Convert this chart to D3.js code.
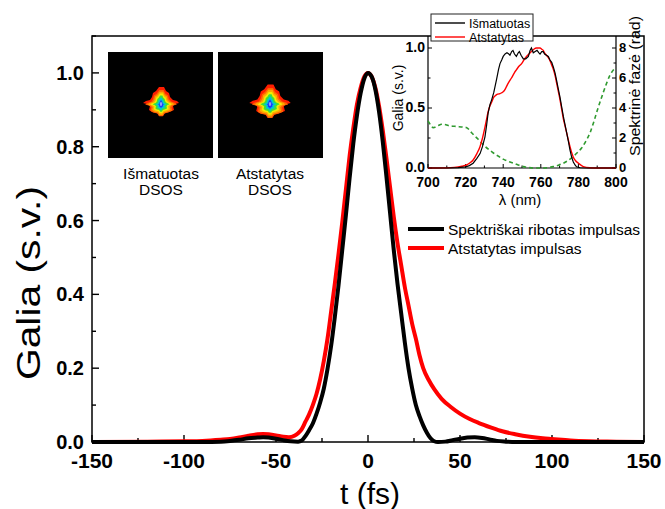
<!DOCTYPE html>
<html>
<head>
<meta charset="utf-8">
<script src="https://cdn.jsdelivr.net/npm/d3@7/dist/d3.min.js"></script>
<style>
  html, body { margin: 0; padding: 0; background: #fff; }
  svg { display: block; font-family: "Liberation Sans", Arial, sans-serif; }
</style>
</head>
<body>
<svg id="chart" width="665" height="509"></svg>
<script>
// ---------- Main chart data ----------
const mainXTicks = [-150, -100, -50, 0, 50, 100, 150];
const mainYTicks = [0.0, 0.2, 0.4, 0.6, 0.8, 1.0];

const limitedT = [-150, -120, -90, -80, -75, -70, -65, -60, -57, -54, -50, -46, -42, -38, -36, -34, -32, -30, -28, -26, -24, -22, -20, -18, -16, -14, -12, -10, -8, -6, -4, -2, 0, 2, 4, 6, 8, 10, 12, 14, 16, 18, 20, 22, 24, 26, 28, 30, 32, 34, 36, 38, 42, 46, 50, 54, 58, 62, 66, 70, 75, 80, 150];
const limitedP = [0, 0, 0, 0.001, 0.003, 0.006, 0.010, 0.012, 0.013, 0.012, 0.009, 0.005, 0.002, 0.001, 0.004, 0.016, 0.032, 0.050, 0.076, 0.107, 0.145, 0.198, 0.262, 0.340, 0.425, 0.520, 0.615, 0.715, 0.808, 0.885, 0.945, 0.985, 1.0, 0.99, 0.955, 0.895, 0.815, 0.72, 0.62, 0.52, 0.43, 0.35, 0.27, 0.20, 0.145, 0.10, 0.07, 0.045, 0.025, 0.010, 0.002, 0.0, 0.001, 0.005, 0.009, 0.012, 0.013, 0.011, 0.007, 0.003, 0.001, 0, 0];

const retrievedT = [-150, -120, -100, -90, -80, -75, -70, -65, -60, -57, -54, -50, -46, -43, -40, -38, -36, -34, -32, -30, -28, -26, -24, -22, -20, -18, -16, -14, -12, -10, -8, -6, -4, -2, 0, 2, 4, 6, 8, 10, 12, 14, 16, 18, 20, 22, 24, 26, 28, 30, 33, 36, 40, 45, 50, 55, 60, 67, 73, 80, 88, 95, 100, 110, 120, 135, 150];
const retrievedP = [0, 0.001, 0.002, 0.003, 0.006, 0.008, 0.012, 0.017, 0.021, 0.022, 0.021, 0.018, 0.014, 0.013, 0.017, 0.024, 0.035, 0.055, 0.075, 0.10, 0.13, 0.17, 0.22, 0.28, 0.355, 0.43, 0.51, 0.595, 0.685, 0.775, 0.85, 0.915, 0.96, 0.99, 1.0, 0.99, 0.96, 0.91, 0.845, 0.77, 0.69, 0.61, 0.54, 0.48, 0.42, 0.37, 0.32, 0.28, 0.235, 0.20, 0.168, 0.143, 0.117, 0.095, 0.077, 0.063, 0.052, 0.039, 0.029, 0.021, 0.014, 0.010, 0.008, 0.004, 0.002, 0.001, 0];

const mainLegend = ["Spektriškai ribotas impulsas", "Atstatytas impulsas"];
const mainColors = ["#000000", "#ff0000"];

// ---------- Inset data ----------
const insetXTicks = [700, 720, 740, 760, 780, 800];
const insetYTicks = [0.0, 0.5, 1.0];
const insetPhaseTicks = [0, 2, 4, 6, 8];

const measuredWl = [700, 710, 716, 720, 722, 724, 726, 727.7, 729, 730.3, 731.2, 732, 733, 733.9, 735, 736.5, 737.5, 738.3, 739.2, 740, 741, 742, 743, 743.6, 744.5, 745.2, 746, 747, 748, 748.6, 749.5, 750.7, 752, 753.4, 754.3, 755, 756, 757, 758, 759, 759.6, 760.5, 761.3, 762, 763, 764, 764.9, 765.8, 766.7, 767.6, 768.4, 769.3, 770.2, 771.1, 772, 772.9, 773.8, 774.7, 775.5, 776.4, 777.3, 778.2, 779, 781, 785, 800];
const measuredI = [0, 0, 0.003, 0.01, 0.02, 0.04, 0.08, 0.12, 0.18, 0.26, 0.36, 0.46, 0.53, 0.57, 0.63, 0.74, 0.82, 0.87, 0.90, 0.93, 0.95, 0.96, 0.95, 0.94, 0.97, 0.98, 0.95, 0.93, 0.96, 0.97, 0.94, 0.91, 0.91, 0.93, 0.98, 1.0, 0.96, 0.97, 0.98, 0.96, 0.95, 0.97, 0.97, 0.95, 0.94, 0.93, 0.90, 0.88, 0.84, 0.79, 0.73, 0.66, 0.59, 0.51, 0.43, 0.36, 0.29, 0.22, 0.15, 0.09, 0.05, 0.025, 0.01, 0.002, 0, 0];

const retrievedWl = [700, 710, 714, 718, 720.5, 722, 724, 726, 727.7, 729, 730.3, 731.2, 732, 733, 733.9, 735, 736, 737, 738.3, 739, 740, 741, 741.8, 743, 744.4, 746, 747.1, 748.5, 749.8, 751, 752.4, 753.7, 755, 756.3, 757.7, 759.6, 760.5, 761.3, 762, 763, 764, 765, 766, 766.7, 767.6, 768.4, 769.3, 770.2, 771.1, 772, 772.9, 773.8, 774.7, 775.5, 776.4, 777.3, 778.5, 780, 782.6, 786, 790, 800];
const retrievedI = [0, 0.001, 0.005, 0.015, 0.025, 0.04, 0.067, 0.12, 0.18, 0.25, 0.34, 0.41, 0.47, 0.52, 0.55, 0.59, 0.605, 0.615, 0.62, 0.625, 0.635, 0.655, 0.68, 0.715, 0.75, 0.795, 0.82, 0.85, 0.87, 0.90, 0.93, 0.95, 0.97, 0.99, 1.0, 1.0, 0.99, 0.98, 0.96, 0.94, 0.92, 0.89, 0.85, 0.82, 0.77, 0.71, 0.64, 0.57, 0.49, 0.41, 0.35, 0.29, 0.23, 0.18, 0.13, 0.09, 0.06, 0.04, 0.012, 0.002, 0, 0];

const phaseWl = [700, 701.5, 702.8, 705, 707.3, 709.5, 711.7, 714, 716, 718.5, 720.6, 723.2, 725, 726.8, 728.5, 730.3, 732.5, 734.8, 737.5, 740, 742.7, 745.4, 748, 750.7, 753.4, 756, 758.6, 761.3, 764, 766.7, 769.4, 772, 774.7, 777.3, 779.5, 781.7, 784, 786.2, 788, 789.7, 791.5, 793.3, 795, 796.8, 798.6, 800];
const phaseRad = [3.14, 2.85, 2.69, 2.8, 2.92, 2.88, 2.8, 2.78, 2.76, 2.73, 2.69, 2.35, 2.12, 1.9, 1.67, 1.45, 1.22, 1.0, 0.78, 0.59, 0.44, 0.32, 0.2, 0.09, 0.03, 0.0, 0.0, 0.0, 0.03, 0.09, 0.19, 0.32, 0.52, 0.77, 1.03, 1.33, 1.8, 2.35, 3.0, 3.7, 4.4, 5.06, 5.65, 6.19, 6.53, 6.7];

const insetLegend = ["Išmatuotas", "Atstatytas"];

// ---------- DSOS thumbnails ----------
const thumbLabels = [["Išmatuotas", "DSOS"], ["Atstatytas", "DSOS"]];
const thumbScale = [1.0, 1.15];
// outer contour of the trace (pixels relative to the spot centre)
const blobDx = [-2, 3, 5, 8, 9, 12, 16, 18, 14, 12, 13, 8, 4, 2, -2, -4, -9, -12, -11, -14, -18, -15, -11, -9, -8, -5];
const blobDy = [-16, -16, -12, -10, -6, -3, -2, 0, 1, 3, 7, 9, 10, 13, 13, 10, 9, 7, 3, 1, 0, -2, -3, -6, -10, -12];
const levelSx = [1.0, 0.88, 0.74, 0.6, 0.46, 0.3, 0.16];
const levelSy = [1.0, 0.9, 0.8, 0.68, 0.56, 0.42, 0.26];
const levelColors = ["#ff1e00", "#ff6400", "#ffa800", "#f2ee00", "#3ede3a", "#00c4d6", "#1638ff"];

// ---------- Drawing ----------
const svg = d3.select("#chart");

const M = { left: 92, right: 644, top: 36, bottom: 442 };
const x = d3.scaleLinear().domain([-150, 150]).range([M.left, M.right]);
const y = d3.scaleLinear().domain([0, 1.1]).range([M.bottom, M.top]);

// frame
svg.append("rect").attr("x", M.left).attr("y", M.top)
  .attr("width", M.right - M.left).attr("height", M.bottom - M.top)
  .attr("fill", "none").attr("stroke", "#000").attr("stroke-width", 1.5);

// ticks (inward)
const xMinor = d3.range(-150, 151, 25);
const yMinor = d3.range(0, 1.101, 0.1);
svg.append("g").selectAll("line").data(xMinor).join("line")
  .attr("x1", d => x(d)).attr("x2", d => x(d))
  .attr("y1", M.bottom).attr("y2", d => M.bottom - (d % 50 === 0 ? 7 : 4))
  .attr("stroke", "#000").attr("stroke-width", 1.4);
svg.append("g").selectAll("line").data(yMinor).join("line")
  .attr("y1", d => y(d)).attr("y2", d => y(d))
  .attr("x1", M.left).attr("x2", (d, i) => M.left + (i % 2 === 0 ? 7 : 4))
  .attr("stroke", "#000").attr("stroke-width", 1.4);

svg.append("g").selectAll("text").data(mainXTicks).join("text")
  .attr("x", d => x(d)).attr("y", 468)
  .attr("text-anchor", "middle")
  .attr("font-size", 21).attr("font-weight", "bold")
  .text(d => d);
svg.append("g").selectAll("text").data(mainYTicks).join("text")
  .attr("x", 84).attr("y", d => y(d) + 7)
  .attr("text-anchor", "end")
  .attr("font-size", 20).attr("font-weight", "bold")
  .text(d => d.toFixed(1));

svg.append("text").attr("x", 370).attr("y", 504)
  .attr("text-anchor", "middle").attr("font-size", 30).text("t (fs)");
svg.append("text")
  .attr("transform", "translate(40,283) rotate(-90)")
  .attr("text-anchor", "middle").attr("font-size", 33)
  .attr("textLength", 194).attr("lengthAdjust", "spacingAndGlyphs")
  .text("Galia (s.v.)");

// curves
const line = d3.line().curve(d3.curveMonotoneX);
svg.append("path")
  .attr("d", line(retrievedT.map((t, i) => [x(t), y(retrievedP[i])])))
  .attr("fill", "none").attr("stroke", mainColors[1]).attr("stroke-width", 4);
svg.append("path")
  .attr("d", line(limitedT.map((t, i) => [x(t), y(limitedP[i])])))
  .attr("fill", "none").attr("stroke", mainColors[0]).attr("stroke-width", 4);

// main legend
mainLegend.forEach((lab, i) => {
  const ly = 229 + i * 19;
  svg.append("line").attr("x1", 408).attr("x2", 444).attr("y1", ly).attr("y2", ly)
    .attr("stroke", mainColors[i]).attr("stroke-width", 4);
  svg.append("text").attr("x", 448).attr("y", ly + 5.5)
    .attr("font-size", 15.5).text(lab);
});

// ---------- DSOS thumbnails ----------
const thumbs = [{ x0: 108, cx: 161 }, { x0: 218, cx: 270 }];
thumbs.forEach((tb, k) => {
  svg.append("rect").attr("x", tb.x0).attr("y", 52).attr("width", 105).attr("height", 106)
    .attr("fill", "#000");
  const s = thumbScale[k];
  levelColors.forEach((c, li) => {
    const pts = blobDx.map((dx, j) => [tb.cx + dx * s * levelSx[li], 103 + (li > 0 ? 1.5 : 0) + blobDy[j] * s * levelSy[li]]);
    svg.append("path").attr("d", d3.line().curve(d3.curveLinearClosed)(pts))
      .attr("fill", c).attr("stroke", "none");
  });
  svg.append("ellipse").attr("cx", tb.cx).attr("cy", 104).attr("rx", 1.2).attr("ry", 2)
    .attr("fill", "#8aa0ff");
  thumbLabels[k].forEach((t, j) => {
    svg.append("text").attr("x", tb.cx).attr("y", 179 + j * 16)
      .attr("text-anchor", "middle").attr("font-size", 15.5).text(t);
  });
});

// ---------- Inset ----------
const I = { left: 428, right: 616, top: 36, bottom: 168 };
const ix = d3.scaleLinear().domain([700, 800]).range([I.left, I.right]);
const iy = d3.scaleLinear().domain([0, 1.1]).range([I.bottom, I.top]);
const ip = d3.scaleLinear().domain([0, 8.8]).range([I.bottom, I.top]);

const ig = svg.append("g");
ig.append("path")
  .attr("d", `M${I.left},${I.top}V${I.bottom}H${I.right}V${I.top}`)
  .attr("fill", "none").attr("stroke", "#000").attr("stroke-width", 1.2);

// inset ticks
ig.selectAll("line.ixt").data(d3.range(700, 801, 10)).join("line")
  .attr("x1", d => ix(d)).attr("x2", d => ix(d))
  .attr("y1", I.bottom).attr("y2", d => I.bottom - (d % 20 === 0 ? 4 : 2.5))
  .attr("stroke", "#000").attr("stroke-width", 1);
ig.selectAll("line.iyt").data(d3.range(0, 1.01, 0.25)).join("line")
  .attr("y1", d => iy(d)).attr("y2", d => iy(d))
  .attr("x1", I.left).attr("x2", (d, i) => I.left + (i % 2 === 0 ? 4 : 2.5))
  .attr("stroke", "#000").attr("stroke-width", 1);
ig.selectAll("line.ipt").data(d3.range(0, 8.01, 1)).join("line")
  .attr("y1", d => ip(d)).attr("y2", d => ip(d))
  .attr("x1", I.right).attr("x2", (d, i) => I.right - (i % 2 === 0 ? 4 : 2.5))
  .attr("stroke", "#000").attr("stroke-width", 1);

ig.selectAll("text.ixl").data(insetXTicks).join("text")
  .attr("x", d => ix(d)).attr("y", 187)
  .attr("text-anchor", "middle").attr("font-size", 14).attr("font-weight", "bold")
  .text(d => d);
ig.selectAll("text.iyl").data(insetYTicks).join("text")
  .attr("x", 425).attr("y", d => iy(d) + 4)
  .attr("text-anchor", "end").attr("font-size", 14).attr("font-weight", "bold")
  .text(d => d.toFixed(1));
ig.selectAll("text.ipl").data(insetPhaseTicks).join("text")
  .attr("x", 619).attr("y", d => ip(d) + 3.5)
  .attr("text-anchor", "start").attr("font-size", 13).attr("font-weight", "bold")
  .text(d => d);

ig.append("text").attr("x", 520).attr("y", 205)
  .attr("text-anchor", "middle").attr("font-size", 15).text("λ (nm)");
ig.append("text").attr("transform", "translate(403,98) rotate(-90)")
  .attr("text-anchor", "middle").attr("font-size", 14).text("Galia (s.v.)");
ig.append("text").attr("transform", "translate(640,86) rotate(-90)")
  .attr("text-anchor", "middle").attr("font-size", 14.5)
  .attr("textLength", 140).attr("lengthAdjust", "spacingAndGlyphs")
  .text("Spektrinė fazė (rad)");

// inset curves
ig.append("path")
  .attr("d", d3.line().curve(d3.curveMonotoneX)(phaseWl.map((w, i) => [ix(w), ip(phaseRad[i])])))
  .attr("fill", "none").attr("stroke", "#2f9a2f").attr("stroke-width", 1.6)
  .attr("stroke-dasharray", "4,3");
ig.append("path")
  .attr("d", d3.line().curve(d3.curveMonotoneX)(retrievedWl.map((w, i) => [ix(w), iy(retrievedI[i])])))
  .attr("fill", "none").attr("stroke", "#ff0000").attr("stroke-width", 1.4);
ig.append("path")
  .attr("d", d3.line()(measuredWl.map((w, i) => [ix(w), iy(measuredI[i])])))
  .attr("fill", "none").attr("stroke", "#000").attr("stroke-width", 1.2);

// inset legend
ig.append("rect").attr("x", 431).attr("y", 14).attr("width", 102).attr("height", 27)
  .attr("fill", "#fff").attr("stroke", "#222").attr("stroke-width", 1);
insetLegend.forEach((lab, i) => {
  const ly = 23 + i * 14;
  ig.append("line").attr("x1", 435).attr("x2", 465).attr("y1", ly).attr("y2", ly)
    .attr("stroke", i === 0 ? "#000" : "#ff0000").attr("stroke-width", 1.4);
  ig.append("text").attr("x", 469).attr("y", ly + 4.5).attr("font-size", 12.5).text(lab);
});
</script>
</body>
</html>
